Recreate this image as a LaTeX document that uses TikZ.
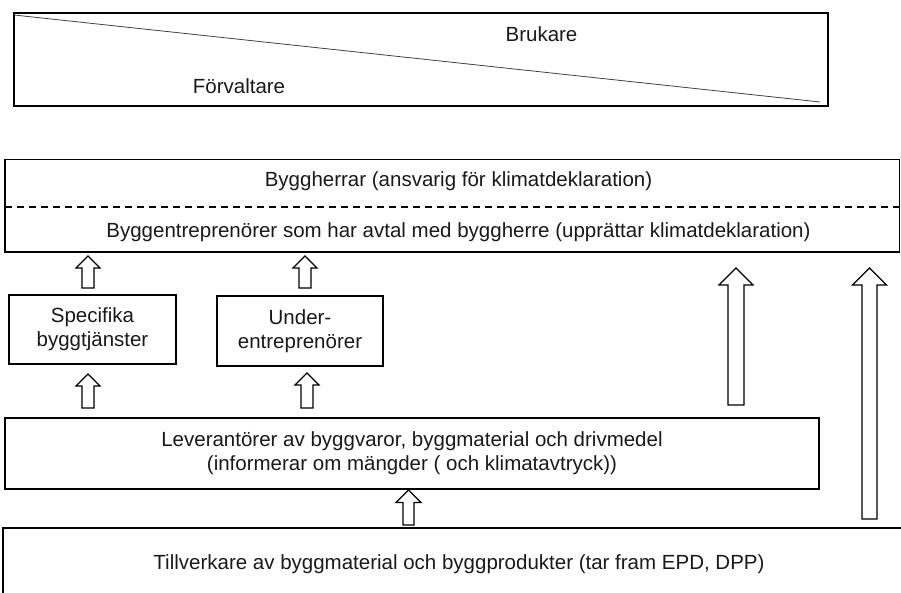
\documentclass[tikz,border=0pt]{standalone}
\usepackage{fontspec}
\setmainfont{Liberation Sans}
\usepackage{tikz}

\newcommand{\blockup}[5]{%
  \draw[arrowline] (#1-#4,#2) -- (#1-#4,#3+#5) -- (#1-#5,#3+#5) -- (#1,#3)
    -- (#1+#5,#3+#5) -- (#1+#4,#3+#5) -- (#1+#4,#2) -- cycle;}

\begin{document}
\begin{tikzpicture}[x=1pt,y=-1pt,
    every node/.style={font=\fontsize{20.5}{24}\selectfont, text=black!90},
    box/.style={draw, line width=1.3pt, inner sep=0pt, align=center},
    label/.style={anchor=base, inner sep=0pt},
    arrowline/.style={draw, line width=1.2pt, fill=white, line join=miter}]
			\useasboundingbox (0,0) rectangle (901,593);

			\coordinate (topnw) at (14,13);
			\coordinate (topse) at (828,106);
			\draw[line width=1.3pt] (topnw) rectangle (topse);
			\coordinate (diagstart) at (14,15);
			\coordinate (diagend) at (820,102);
			\draw[line width=0.8pt, black!75] (diagstart) -- (diagend);
			\node[label] (brukare) at (541.5,42) {Brukare};
			\node[label] (forvaltare) at (239,94) {Förvaltare};

			\coordinate (mainnw) at (5,159.5);
			\coordinate (mainse) at (899.5,252);
			\draw[line width=1.3pt] (mainnw) rectangle (mainse);
			\draw[dashed, line width=1.1pt, dash pattern=on 7pt off 5pt] (5,207) -- (899.5,207);
			\node[label] (byggherrar) at (458.5,187) {Byggherrar (ansvarig för klimatdeklaration)};
			\node[label] (entreprenor) at (458.5,238) {Byggentreprenörer som har avtal med byggherre (upprättar klimatdeklaration)};

			\node[box, minimum width=167pt, minimum height=69pt] (specifika) at (92.5,329.5) {Specifika\\byggtjänster};
			\node[box, minimum width=166pt, minimum height=70pt] (under) at (300,331) {Under-\\entreprenörer};

			\node[box, minimum width=814pt, minimum height=71pt] (leverantorer) at (412,453.5)
				{Leverantörer av byggvaror, byggmaterial och drivmedel\\(informerar om mängder ( och klimatavtryck))};

			\coordinate (tillnw) at (3,528);
			\coordinate (tillse) at (910,610);
			\draw[line width=1.3pt] (tillnw) rectangle (tillse);
			\node[label] (tillverkare) at (459,569) {Tillverkare av byggmaterial och byggprodukter (tar fram EPD, DPP)};

			\blockup{88}{288}{256}{6}{12}
			\blockup{305}{288}{256}{6}{12}
			\blockup{88}{408}{374}{6}{12}
			\blockup{307}{408}{373}{6}{12}
			\blockup{408.5}{525}{490}{5.5}{12.5}
			\blockup{736}{405}{268}{8}{17}
			\blockup{869.5}{519}{268}{7.5}{17}
		\end{tikzpicture}
\end{document}
